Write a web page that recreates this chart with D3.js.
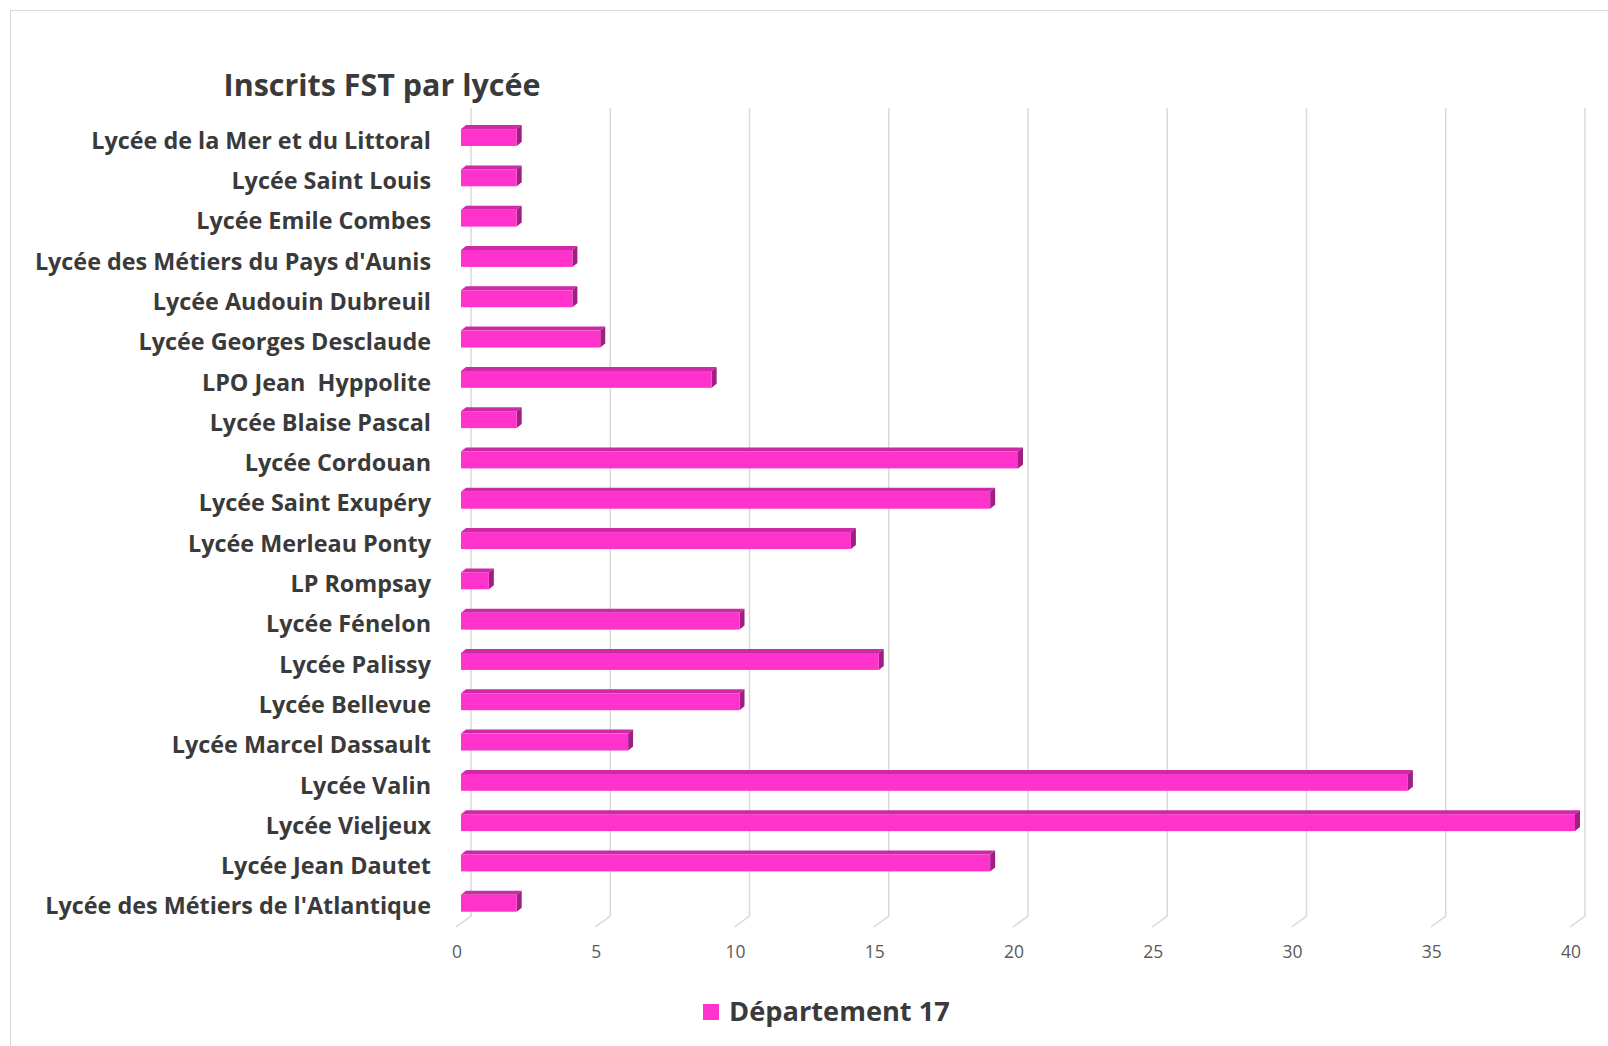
<!DOCTYPE html>
<html>
<head>
<meta charset="utf-8">
<script src="https://cdn.jsdelivr.net/npm/d3@7"></script>
<style>
  body { margin: 0; background: #fff; }
  text { font-family: "Open Sans", Lato, sans-serif; }
</style>
</head>
<body>
<svg id="chart" width="1608" height="1046"></svg>
<script>

// categories, top to bottom as in the picture
var lycees = ["Lycée de la Mer et du Littoral", "Lycée Saint Louis", "Lycée Emile Combes",
    "Lycée des Métiers du Pays d'Aunis", "Lycée Audouin Dubreuil", "Lycée Georges Desclaude",
    "LPO Jean  Hyppolite", "Lycée Blaise Pascal", "Lycée Cordouan", "Lycée Saint Exupéry",
    "Lycée Merleau Ponty", "LP Rompsay", "Lycée Fénelon", "Lycée Palissy", "Lycée Bellevue",
    "Lycée Marcel Dassault", "Lycée Valin", "Lycée Vieljeux", "Lycée Jean Dautet",
    "Lycée des Métiers de l'Atlantique"];

var inscrits = [2, 2, 2, 4, 4, 5, 9, 2, 20, 19, 14, 1, 10, 15, 10, 6, 34, 40, 19, 2];

var x_ticks = [0, 5, 10, 15, 20, 25, 30, 35, 40];

var serie_name = "Département 17";
var chart_title = "Inscrits FST par lycée";


// font size that makes a bold string as wide as in the picture
function fit_size(svg, str, width){
    var t = svg.append("text")
        .style("font-size", "100px")
        .style("font-weight", "bold")
        .style("white-space", "pre")
        .text(str);
    var w = t.node().getComputedTextLength();
    t.remove();
    return 100 * width / w;
}


function draw_chart(){

    var svg = d3.select("#chart");

    // depth of the fake 3d
    var dx = 5, dy = -4;     // bar thickness
    var wall = 10;           // back wall shift of gridlines

    var x = d3.scaleLinear().domain([0, 40]).range([461, 1575]);
    var y = d3.scaleBand().domain(lycees).range([117.4, 923.4])
                .paddingInner(0.58).paddingOuter(0.29);

    var top_y = 108, floor_y = 916;

    var label_size = fit_size(svg, "Lycée des Métiers de l'Atlantique", 386);
    var title_size = fit_size(svg, chart_title, 317);
    var legend_size = fit_size(svg, serie_name, 221);

    // chart frame
    svg.append("rect")
        .attr("x", 10.5).attr("y", 10.5)
        .attr("width", 1640).attr("height", 1100)
        .attr("fill", "none")
        .attr("stroke", "#d9d9d9")
        .attr("stroke-width", 1);

    // gridlines, back wall + floor edge
    var grid = svg.append("g");
    grid.selectAll("path")
        .data(x_ticks)
        .enter().append("path")
        .attr("d", function(v){
            var gx = x(v) + wall;
            return "M" + gx + "," + top_y + "L" + gx + "," + floor_y + "L" + (gx - 15) + "," + (floor_y + 11);
        })
        .attr("fill", "none")
        .attr("stroke", "#d9d9d9")
        .attr("stroke-width", 1.5);

    // tick labels
    svg.append("g").selectAll("text")
        .data(x_ticks)
        .enter().append("text")
        .attr("x", function(v){ return x(v) - 4; })
        .attr("y", 952)
        .attr("dy", ".35em")
        .attr("text-anchor", "middle")
        .style("font-size", "17.5px")
        .style("fill", "#595959")
        .text(function(v){ return v; });

    // bars
    var bars = svg.append("g").selectAll("g")
        .data(lycees)
        .enter().append("g");

    bars.append("path")   // top face
        .attr("d", function(d, i){
            var x0 = x(0), x1 = x(inscrits[i]), y0 = y(d);
            return "M" + x0 + "," + y0 + "L" + (x0 + dx) + "," + (y0 + dy) +
                   "L" + (x1 + dx) + "," + (y0 + dy) + "L" + x1 + "," + y0 + "Z";
        })
        .attr("fill", "#cc2aa6");

    bars.append("path")   // side face
        .attr("d", function(d, i){
            var x1 = x(inscrits[i]), y0 = y(d), y1 = y(d) + y.bandwidth();
            return "M" + x1 + "," + y0 + "L" + (x1 + dx) + "," + (y0 + dy) +
                   "L" + (x1 + dx) + "," + (y1 + dy) + "L" + x1 + "," + y1 + "Z";
        })
        .attr("fill", "#a01f82");

    bars.append("rect")   // front face
        .attr("x", x(0))
        .attr("y", function(d){ return y(d); })
        .attr("width", function(d, i){ return x(inscrits[i]) - x(0); })
        .attr("height", y.bandwidth())
        .attr("fill", "#ff33cc");

    // category labels
    svg.append("g").selectAll("text")
        .data(lycees)
        .enter().append("text")
        .attr("x", 431)
        .attr("y", function(d){ return y(d) + y.bandwidth() / 2 + 3; })
        .attr("dy", ".35em")
        .attr("text-anchor", "end")
        .style("font-size", label_size + "px")
        .style("font-weight", "bold")
        .style("fill", "#3a3a3a")
        .style("white-space", "pre")
        .text(function(d){ return d; });

    // title
    svg.append("text")
        .attr("x", 382)
        .attr("y", 85)
        .attr("dy", ".35em")
        .attr("text-anchor", "middle")
        .style("font-size", title_size + "px")
        .style("font-weight", "bold")
        .style("fill", "#3a3a3a")
        .text(chart_title);

    // legend
    svg.append("rect")
        .attr("x", 703).attr("y", 1004)
        .attr("width", 16).attr("height", 16)
        .attr("fill", "#ff33cc");

    svg.append("text")
        .attr("x", 729)
        .attr("y", 1011)
        .attr("dy", ".35em")
        .style("font-size", legend_size + "px")
        .style("font-weight", "bold")
        .style("fill", "#3a3a3a")
        .text(serie_name);
}

draw_chart();

</script>
</body>
</html>
